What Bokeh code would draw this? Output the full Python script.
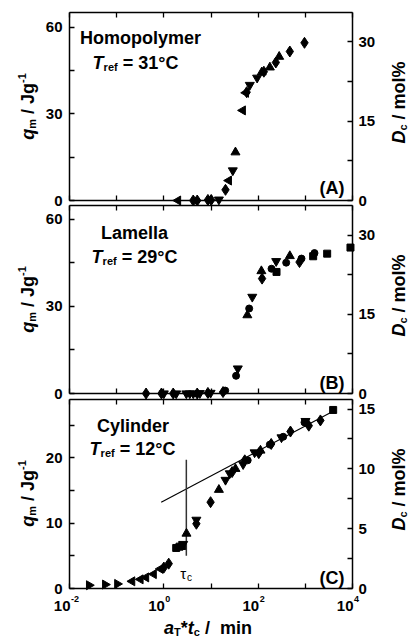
import math
from bokeh.plotting import figure
from bokeh.models import (Range1d, LinearAxis, LogAxis, FixedTicker, Label,
                          CustomJSTickFormatter)
from bokeh.embed import file_html
from bokeh.resources import INLINE

# ---------------- data ----------------
X_TICKS = [1e-2, 1e-1, 1e0, 1e1, 1e2, 1e3, 1e4]
X_LABEL_EXP = [-2, 0, 2, 4]

# Panel A: Homopolymer, T_ref = 31 C
A_diamond_x = [4.2, 5.1, 8.6, 10.1, 20.3, 57.0, 132, 237, 469, 960]
A_diamond_q = [0, 0, 0.2, 0.2, 3.7, 37.5, 44.6, 47.8, 51.6, 54.6]
A_left_x = [2.0, 23.9, 47.2, 55.0]
A_left_q = [0, 6.9, 31.2, 37.3]
A_down_x = [14.7, 29.0, 66.5, 95.0]
A_down_q = [0.3, 10.4, 40.0, 42.5]
A_up_x = [33.0, 119, 177, 279]
A_up_q = [16.7, 44.4, 46.1, 49.8]

# Panel B: Lamella, T_ref = 29 C
B_diamond_x = [0.42, 0.89, 1.58, 5.1, 8.6, 18.0, 121, 752]
B_diamond_q = [0, 0, 0, 0, 0.2, 0.5, 39.6, 45.3]
B_down_x = [1.0, 1.83, 3.0, 3.55, 4.2, 5.8, 9.8, 37.0, 75.0, 241]
B_down_q = [0, 0, 0, 0, 0, 0.1, 0.2, 8.6, 33.3, 45.6]
B_circle_x = [20.0, 34.0, 64.5, 192, 393, 829, 1563]
B_circle_q = [1.0, 6.1, 29.3, 43.0, 45.1, 46.5, 48.4]
B_up_x = [59.0, 117, 469]
B_up_q = [27.0, 42.2, 47.4]
B_square_x = [245, 1466, 2904, 9060]
B_square_q = [41.9, 47.3, 48.2, 50.3]

# Panel C: Cylinder, T_ref = 12 C
C_right_x = [0.026, 0.057, 0.103]
C_right_q = [0.5, 0.6, 0.7]
C_left_x = [0.213, 0.32, 0.42, 0.61, 0.85]
C_left_q = [1.1, 1.4, 1.7, 2.2, 3.0]
C_diamond_x = [1.0, 1.27, 4.9, 9.8, 28, 52, 103, 189, 484, 1184, 2089]
C_diamond_q = [3.2, 3.8, 9.9, 13.2, 17.8, 19.6, 20.7, 22.1, 24.0, 24.9, 25.7]
C_square_x = [1.83, 2.15, 2.45, 3890]
C_square_q = [6.2, 6.4, 6.5, 27.3]
C_up_x = [3.02, 14.7, 33.0, 112]
C_up_q = [8.4, 15.1, 18.3, 21.1]
C_down_x = [2.57, 4.9, 20.3, 25.0, 48.0, 84.0, 312, 1007]
C_down_q = [6.8, 10.5, 16.6, 17.6, 19.0, 20.8, 23.1, 25.6]
C_circle_x = [60.0, 177, 339, 960]
C_circle_q = [19.6, 22.0, 23.2, 25.4]

C_fit_x = [0.88, 3890]
C_fit_q = [13.2, 27.1]
C_tau = 3.0
C_tau_q = [5.0, 19.7]

# ---------------- geometry / styling ----------------
FONT = "Liberation Sans"
F_MAIN = 18
F_SUB = 11
F_TITLE = 18
F_TICK = 15

CANVAS_W = 408
CANVAS_H = 642
BOX_LEFT = 69            # px from canvas left to the 10^-2 edge
BOX_W = 283              # px for the six decades
DECADE = BOX_W / 6.0
X_MIN, X_MAX = 1e-2, 1e4

W = {' ': 278, '%': 889, '(': 333, ')': 333, '*': 389, '-': 333, '/': 278,
     '=': 584, '°': 400, 'A': 722, 'B': 722, 'C': 722, 'D': 722, 'H': 722,
     'J': 556, 'L': 611, 'T': 611, 'a': 556, 'c': 556, 'e': 556, 'f': 333,
     'g': 611, 'i': 278, 'l': 278, 'm': 889, 'n': 611, 'o': 611, 'p': 611,
     'q': 611, 'r': 389, 't': 333, 'y': 556, 'τ': 450}


def tw(s, size):
    return sum(W.get(ch, 556) for ch in s) / 1000.0 * size


def sx(px):
    return px


def sy(py):
    return CANVAS_H - py


lo = math.log10(X_MIN) - BOX_LEFT / DECADE
hi = lo + CANVAS_W / DECADE
p = figure(x_axis_type="log", x_range=Range1d(10 ** lo, 10 ** hi),
           y_range=Range1d(0, 1), width=CANVAS_W, height=CANVAS_H,
           min_border=0, x_axis_location=None, y_axis_location=None,
           title=None, output_backend="svg", toolbar_location=None)
p.grid.visible = False
p.outline_line_color = None
p.background_fill_color = "white"
p.border_fill_color = "white"


def panel_range(top_px, bot_px, vmax):
    upp = vmax / float(bot_px - top_px)
    start = -(CANVAS_H - bot_px) * upp
    end = vmax + top_px * upp
    return Range1d(start, end)


def style_axis(ax, show_labels=True, standoff=7):
    ax.axis_line_color = "black"
    ax.axis_line_width = 1.5
    ax.major_tick_in = 5
    ax.major_tick_out = 0
    ax.minor_tick_in = 5
    ax.minor_tick_out = 0
    ax.major_tick_line_width = 1.3
    ax.minor_tick_line_width = 1.3
    ax.major_tick_line_color = "black"
    ax.minor_tick_line_color = "black"
    ax.major_label_text_font = FONT
    ax.major_label_text_font_style = "bold"
    ax.major_label_text_color = "black"
    if show_labels:
        ax.major_label_text_font_size = f"{F_TICK}px"
        ax.major_label_standoff = standoff
    else:
        ax.major_label_text_font_size = "0px"
        ax.major_label_standoff = 0
        ax.formatter = CustomJSTickFormatter(code="return ''")


def rich(pieces, x, y, x_units="screen", y_units="screen", angle=0.0,
         align="left", size=F_MAIN, sub=F_SUB, bold=True):
    sizes = {"n": size, "i": size, "sub": sub, "sup": sub}
    total = sum(tw(t, sizes[k]) for t, k in pieces)
    pos = {"left": 0.0, "center": -total / 2.0, "right": -total}[align]
    for t, k in pieces:
        lead = len(t) - len(t.lstrip(" "))
        pos += tw(" " * lead, sizes[k])
        t = t.strip(" ")
        shift = -4.0 if k == "sub" else (6.0 if k == "sup" else 0.0)
        if angle == 0:
            xo, yo = pos, shift
        else:
            xo, yo = -shift, pos
        style = "bold" if bold else "normal"
        if k == "i":
            style = "bold italic" if bold else "italic"
        p.add_layout(Label(x=x, y=y, x_units=x_units, y_units=y_units,
                           x_offset=xo, y_offset=yo, text=t, angle=angle,
                           text_align="left", text_baseline="alphabetic",
                           text_font=FONT, text_font_style=style,
                           text_font_size=f"{sizes[k]}px", text_color="black"))
        pos += tw(t, sizes[k])


def make_panel(key, top_px, bot_px, qmax, dmax, qticks, qminor, dticks, dminor):
    qn, dn = "q" + key, "d" + key
    p.extra_y_ranges[qn] = panel_range(top_px, bot_px, qmax)
    p.extra_y_ranges[dn] = panel_range(top_px, bot_px, dmax)
    ticker_x = FixedTicker(ticks=X_TICKS, minor_ticks=[])
    for loc, v in (("below", 0), ("above", qmax)):
        ax = LogAxis(y_range_name=qn, fixed_location=v, bounds=(X_MIN, X_MAX),
                     ticker=ticker_x)
        style_axis(ax, show_labels=False)
        p.add_layout(ax, loc)
    yl = LinearAxis(y_range_name=qn, fixed_location=X_MIN, bounds=(0, qmax),
                    ticker=FixedTicker(ticks=qticks, minor_ticks=qminor))
    style_axis(yl, standoff=7)
    p.add_layout(yl, "left")
    yr = LinearAxis(y_range_name=dn, fixed_location=X_MAX, bounds=(0, dmax),
                    ticker=FixedTicker(ticks=dticks, minor_ticks=dminor))
    style_axis(yr, standoff=6)
    p.add_layout(yr, "right")
    return qn


def pts(rn, xs, qs, kind):
    common = dict(fill_color="black", line_color="black", y_range_name=rn)
    if kind == "diamond":
        p.scatter(xs, qs, marker="diamond", size=11, **common)
    elif kind == "up":
        p.scatter(xs, qs, marker="triangle", size=9, **common)
    elif kind == "down":
        p.scatter(xs, qs, marker="inverted_triangle", size=9, **common)
    elif kind == "left":
        p.scatter(xs, qs, marker="triangle", angle=math.pi / 2, size=9, **common)
    elif kind == "right":
        p.scatter(xs, qs, marker="triangle", angle=-math.pi / 2, size=9, **common)
    elif kind == "circle":
        p.scatter(xs, qs, marker="circle", size=7, **common)
    elif kind == "square":
        p.scatter(xs, qs, marker="square", size=7, **common)


def axis_titles(center_py):
    rich([("q", "i"), ("m", "sub"), (" / Jg", "n"), ("-1", "sup")],
         sx(27), sy(center_py), angle=math.pi / 2, align="center", size=F_TITLE)
    rich([("D", "i"), ("c", "sub"), (" / mol%", "n")],
         sx(398), sy(center_py - 4), angle=math.pi / 2, align="center", size=F_TITLE)


def panel_text(name, tref, letter, name_xy, tref_xy, letter_py):
    rich([(name, "n")], sx(name_xy[0]), sy(name_xy[1]), align="center")
    rich([("T", "i"), ("ref", "sub"), (" = " + tref, "n")],
         sx(tref_xy[0]), sy(tref_xy[1]), align="center")
    rich([(letter, "n")], sx(344), sy(letter_py), align="right")


# Panel A
ra = make_panel("a", 12, 200, 65.1, 35.5, [0, 30, 60], [15, 45], [0, 15, 30], [7.5, 22.5])
pts(ra, A_diamond_x, A_diamond_q, "diamond")
pts(ra, A_left_x, A_left_q, "left")
pts(ra, A_down_x, A_down_q, "down")
pts(ra, A_up_x, A_up_q, "up")
panel_text("Homopolymer", "31°C", "(A)", (140, 37), (135, 62), 187)
axis_titles(106)

# Panel B
rb = make_panel("b", 205, 393, 64.8, 35.6, [0, 30, 60], [15, 45], [0, 15, 30], [7.5, 22.5])
pts(rb, B_diamond_x, B_diamond_q, "diamond")
pts(rb, B_down_x, B_down_q, "down")
pts(rb, B_circle_x, B_circle_q, "circle")
pts(rb, B_up_x, B_up_q, "up")
pts(rb, B_square_x, B_square_q, "square")
panel_text("Lamella", "29°C", "(B)", (134, 232), (134, 256), 382)
axis_titles(299)

# Panel C
rc = make_panel("c", 399, 588, 28.9, 15.8, [0, 10, 20], [5, 15, 25], [0, 5, 10, 15], [2.5, 7.5, 12.5])
p.line(C_fit_x, C_fit_q, line_color="black", line_width=1.2, y_range_name=rc)
p.line([C_tau, C_tau], C_tau_q, line_color="#333333", line_width=1.5, y_range_name=rc)
pts(rc, C_right_x, C_right_q, "right")
pts(rc, C_left_x, C_left_q, "left")
pts(rc, C_diamond_x, C_diamond_q, "diamond")
pts(rc, C_square_x, C_square_q, "square")
pts(rc, C_up_x, C_up_q, "up")
pts(rc, C_down_x, C_down_q, "down")
pts(rc, C_circle_x, C_circle_q, "circle")
panel_text("Cylinder", "12°C", "(C)", (132, 425), (132, 448), 577)
rich([("τ", "n"), ("c", "sub")], C_tau, sy(573), x_units="data", align="center",
     size=15, sub=10, bold=False)
axis_titles(493)

for e in X_LABEL_EXP:
    p.add_layout(Label(x=10.0 ** e, y=sy(605), x_units="data", y_units="screen",
                       x_offset=1, text="10", text_align="right",
                       text_baseline="alphabetic", text_font=FONT,
                       text_font_style="bold", text_font_size=f"{F_TICK}px",
                       text_color="black"))
    p.add_layout(Label(x=10.0 ** e, y=sy(605), x_units="data", y_units="screen",
                       x_offset=1.5, y_offset=7, text=str(e), text_align="left",
                       text_baseline="alphabetic", text_font=FONT,
                       text_font_style="bold", text_font_size="9px",
                       text_color="black"))
rich([("a", "i"), ("T", "sub"), ("*", "n"), ("t", "i"), ("c", "sub"), (" / ", "n"), ("  min", "n")],
     sx(210), sy(627), align="center", size=F_TITLE)

open("out.html", "w").write(file_html(p, INLINE))
